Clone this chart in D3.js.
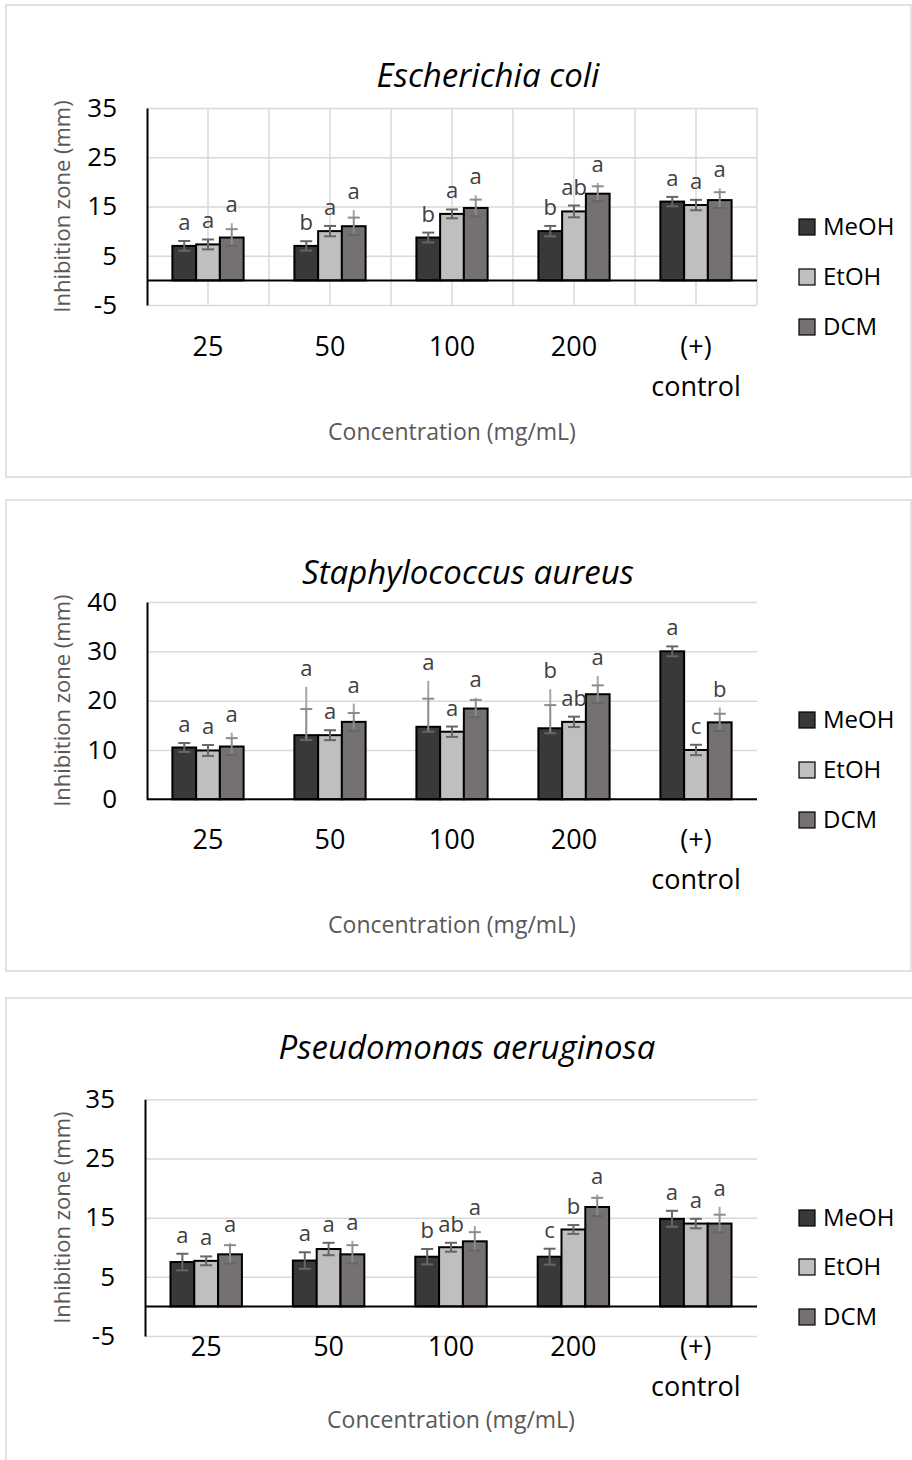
<!DOCTYPE html>
<html>
<head>
<meta charset="utf-8">
<script src="https://cdn.jsdelivr.net/npm/d3@7"></script>
<style>
  body { margin: 0; background: #fff; }
  svg { display: block; font-family: "Open Sans", sans-serif; }
</style>
</head>
<body>
<script>
// categories and series
var categories = ['25', '50', '100', '200', '(+)|control'];
var series = ['MeOH', 'EtOH', 'DCM'];

// Escherichia coli
var ecoliMeans   = [[7.0, 7.0, 8.7, 10.0, 16.0], [7.3, 10.0, 13.5, 14.0, 15.3], [8.7, 11.0, 14.7, 17.6, 16.3]];
var ecoliMinus   = [[1.0, 0.95, 1.0, 1.05, 0.95], [1.0, 1.05, 0.9, 1.2, 1.05], [1.7, 1.75, 1.7, 1.5, 1.6]];
var ecoliPlus    = [[1.0, 0.95, 1.0, 1.05, 0.95], [1.0, 1.05, 0.9, 1.2, 1.05], [1.7, 1.75, 1.7, 1.5, 1.6]];
var ecoliWhisker = [[null, null, null, null, null], [null, null, null, null, null], [11.6, 14.3, 17.3, 19.8, 18.7]];
var ecoliLetters = [['a', 'b', 'b', 'b', 'a'], ['a', 'a', 'a', 'ab', 'a'], ['a', 'a', 'a', 'a', 'a']];

// Staphylococcus aureus
var saureusMeans   = [[10.5, 13.0, 14.7, 14.4, 30.0], [9.9, 13.0, 13.7, 15.7, 10.0], [10.7, 15.7, 18.4, 21.3, 15.6]];
var saureusMinus   = [[0.9, 1.0, 1.0, 1.0, 1.0], [1.1, 1.0, 1.05, 1.05, 1.05], [1.7, 1.8, 1.75, 1.8, 1.75]];
var saureusPlus    = [[0.9, 5.3, 5.7, 4.7, 1.0], [1.1, 1.0, 1.05, 1.05, 1.05], [1.7, 1.8, 1.75, 1.8, 1.75]];
var saureusWhisker = [[null, 22.8, 24.0, 22.3, null], [null, null, null, null, null], [13.5, 19.4, 20.6, 25.0, 18.6]];
var saureusLetters = [['a', 'a', 'a', 'b', 'a'], ['a', 'a', 'a', 'ab', 'c'], ['a', 'a', 'a', 'a', 'b']];

// Pseudomonas aeruginosa
var paerMeans   = [[7.5, 7.75, 8.4, 8.4, 14.8], [7.7, 9.7, 10.0, 13.0, 14.0], [8.8, 8.8, 11.0, 16.8, 14.0]];
var paerMinus   = [[1.4, 1.4, 1.3, 1.35, 1.35], [0.75, 1.05, 0.75, 0.75, 0.8], [1.55, 1.55, 1.55, 1.55, 1.5]];
var paerPlus    = [[1.4, 1.4, 1.3, 1.35, 1.35], [0.75, 1.05, 0.75, 0.75, 0.8], [1.55, 1.55, 1.55, 1.55, 1.5]];
var paerWhisker = [[null, null, null, null, null], [null, null, null, null, null], [10.7, 11.1, 13.6, 18.9, 16.85]];
var paerLetters = [['a', 'a', 'b', 'c', 'a'], ['a', 'a', 'ab', 'b', 'a'], ['a', 'a', 'a', 'a', 'a']];

var ticksA = [-5, 5, 15, 25, 35];
var ticksB = [0, 10, 20, 30, 40];

var colors = ['#3b3838', '#bfbfbf', '#767171'];

var svg = d3.select('body').append('svg').attr('width', 912).attr('height', 1460);

function drawPanel(cfg, means, minus, plus, whisker, letters) {
  var g = svg.append('g');

  g.append('rect')
    .attr('x', cfg.box[0]).attr('y', cfg.box[1])
    .attr('width', cfg.box[2]).attr('height', cfg.box[3])
    .attr('fill', 'none').attr('stroke', '#d9d9d9').attr('stroke-width', 1.5);

  g.append('text')
    .attr('x', cfg.titleX).attr('y', cfg.titleY).attr('dy', '0.35em')
    .attr('text-anchor', 'middle').attr('font-size', 33).attr('font-style', 'italic')
    .attr('fill', '#000').text(cfg.title);

  var y = d3.scaleLinear().domain(cfg.domain).range([cfg.b, cfg.t]);
  var x0 = d3.scaleBand().domain(categories).range([cfg.l, cfg.r]);
  var x1 = d3.scaleBand().domain(series).range([0, x0.bandwidth()]).paddingOuter(1.07);

  // horizontal grid
  var grid = g.append('g').attr('transform', 'translate(' + cfg.l + ',0)')
    .call(d3.axisLeft(y).tickValues(cfg.ticks).tickSize(-(cfg.r - cfg.l)).tickFormat(''));
  grid.select('.domain').remove();
  grid.selectAll('line').attr('stroke', '#d9d9d9').attr('stroke-width', 1.5);

  // vertical grid (first chart only)
  if (cfg.vgrid) {
    var vx = [];
    categories.forEach(function(c) { vx.push(x0(c) + x0.bandwidth() / 2); vx.push(x0(c) + x0.bandwidth()); });
    g.selectAll('line.vg').data(vx).enter().append('line')
      .attr('class', 'vg')
      .attr('x1', function(d) { return d; }).attr('x2', function(d) { return d; })
      .attr('y1', cfg.t).attr('y2', cfg.b)
      .attr('stroke', '#d9d9d9').attr('stroke-width', 1.5);
  }

  // y axis
  var ax = g.append('g').attr('transform', 'translate(' + cfg.l + ',0)')
    .call(d3.axisLeft(y).tickValues(cfg.ticks).tickSize(0).tickPadding(30).tickSizeOuter(0)
      .tickFormat(function(d) { return String(d); }));
  ax.select('.domain').attr('stroke', '#000').attr('stroke-width', 2);
  ax.selectAll('text').attr('font-size', 26).attr('fill', '#000').attr('font-family', '"Open Sans", sans-serif');

  // y title
  g.append('text')
    .attr('transform', 'translate(' + cfg.yTitleX + ',' + ((cfg.t + cfg.b) / 2) + ') rotate(-90)')
    .attr('dy', '0.35em').attr('text-anchor', 'middle')
    .attr('font-size', 22).attr('fill', '#595959').text('Inhibition zone (mm)');

  // x labels
  var xl = g.selectAll('text.xl').data(categories).enter().append('text')
    .attr('class', 'xl')
    .attr('text-anchor', 'middle').attr('font-size', 27).attr('fill', '#000');
  xl.each(function(c) {
    var parts = c.split('|');
    var t = d3.select(this);
    parts.forEach(function(p, k) {
      t.append('tspan')
        .attr('x', x0(c) + x0.bandwidth() / 2)
        .attr('y', cfg.xLabelY + k * 40)
        .attr('dy', '0.35em')
        .text(p);
    });
  });

  g.append('text')
    .attr('x', (cfg.l + cfg.r) / 2).attr('y', cfg.xTitleY).attr('dy', '0.35em')
    .attr('text-anchor', 'middle').attr('font-size', 23).attr('fill', '#595959')
    .text('Concentration (mg/mL)');

  // rows
  var rows = [];
  series.forEach(function(s, i) {
    categories.forEach(function(c, j) {
      var v = means[i][j];
      var hi = v + plus[i][j];
      rows.push({ s: s, i: i, c: c, v: v, lo: v - minus[i][j], hi: hi,
        top: whisker[i][j] == null ? hi : whisker[i][j], letter: letters[i][j] });
    });
  });

  function cx(d) { return x0(d.c) + x1(d.s) + x1.bandwidth() / 2; }

  // bars
  g.selectAll('rect.bar').data(rows).enter().append('rect')
    .attr('class', 'bar')
    .attr('x', function(d) { return x0(d.c) + x1(d.s); })
    .attr('width', x1.bandwidth())
    .attr('y', function(d) { return y(Math.max(0, d.v)); })
    .attr('height', function(d) { return Math.abs(y(d.v) - y(0)); })
    .attr('fill', function(d) { return colors[d.i]; })
    .attr('stroke', '#000').attr('stroke-width', 2);

  // zero line
  g.append('line')
    .attr('x1', cfg.l).attr('x2', cfg.r).attr('y1', y(0)).attr('y2', y(0))
    .attr('stroke', '#000').attr('stroke-width', 2);

  // error bars
  g.selectAll('line.ext').data(rows.filter(function(d) { return d.top > d.hi; })).enter().append('line')
    .attr('class', 'ext')
    .attr('x1', cx).attr('x2', cx)
    .attr('y1', function(d) { return y(d.hi); }).attr('y2', function(d) { return y(d.top); })
    .attr('stroke', '#a6a6a6').attr('stroke-width', 2);
  g.selectAll('line.err').data(rows).enter().append('line')
    .attr('class', 'err')
    .attr('x1', cx).attr('x2', cx)
    .attr('y1', function(d) { return y(d.lo); }).attr('y2', function(d) { return y(d.hi); })
    .attr('stroke', function(d) { return d.top > d.hi ? '#8c8c8c' : '#666'; }).attr('stroke-width', 2);
  ['lo', 'hi'].forEach(function(k) {
    g.selectAll('line.cap' + k).data(rows).enter().append('line')
      .attr('class', 'cap' + k)
      .attr('x1', function(d) { return cx(d) - 6; }).attr('x2', function(d) { return cx(d) + 6; })
      .attr('y1', function(d) { return y(d[k]); }).attr('y2', function(d) { return y(d[k]); })
      .attr('stroke', function(d) { return (k == 'hi' && d.top > d.hi) ? '#8c8c8c' : '#666'; })
      .attr('stroke-width', 2);
  });

  // significance letters
  g.selectAll('text.let').data(rows).enter().append('text')
    .attr('class', 'let')
    .attr('x', cx).attr('y', function(d) { return y(d.top) - 11; })
    .attr('text-anchor', 'middle').attr('font-size', 22).attr('fill', '#404040')
    .text(function(d) { return d.letter; });

  // legend
  var lg = g.selectAll('g.lg').data(series).enter().append('g')
    .attr('class', 'lg')
    .attr('transform', function(d, i) { return 'translate(799,' + cfg.legendY[i] + ')'; });
  lg.append('rect').attr('x', 0).attr('y', -8).attr('width', 16).attr('height', 16)
    .attr('fill', function(d, i) { return colors[i]; }).attr('stroke', '#000').attr('stroke-width', 1.2);
  lg.append('text').attr('x', 24).attr('y', 0).attr('dy', '0.35em')
    .attr('font-size', 24).attr('fill', '#000').text(function(d) { return d; });
}

drawPanel({
  box: [6, 5, 905, 472], title: 'Escherichia coli', titleX: 488, titleY: 75,
  l: 147, r: 757, t: 108, b: 305, domain: [-5, 35], ticks: ticksA, vgrid: true,
  yTitleX: 62, xLabelY: 347, xTitleY: 432, legendY: [227, 277, 327]
}, ecoliMeans, ecoliMinus, ecoliPlus, ecoliWhisker, ecoliLetters);

drawPanel({
  box: [6, 500, 905, 471], title: 'Staphylococcus aureus', titleX: 468, titleY: 572,
  l: 147, r: 757, t: 602, b: 799.3, domain: [0, 40], ticks: ticksB, vgrid: false,
  yTitleX: 62, xLabelY: 840, xTitleY: 925, legendY: [720, 770, 820]
}, saureusMeans, saureusMinus, saureusPlus, saureusWhisker, saureusLetters);

drawPanel({
  box: [6, 998, 920, 500], title: 'Pseudomonas aeruginosa', titleX: 467, titleY: 1047,
  l: 145, r: 757, t: 1099.3, b: 1336, domain: [-5, 35], ticks: ticksA, vgrid: false,
  yTitleX: 62, xLabelY: 1347, xTitleY: 1420, legendY: [1218, 1267, 1317]
}, paerMeans, paerMinus, paerPlus, paerWhisker, paerLetters);
</script>
</body>
</html>
